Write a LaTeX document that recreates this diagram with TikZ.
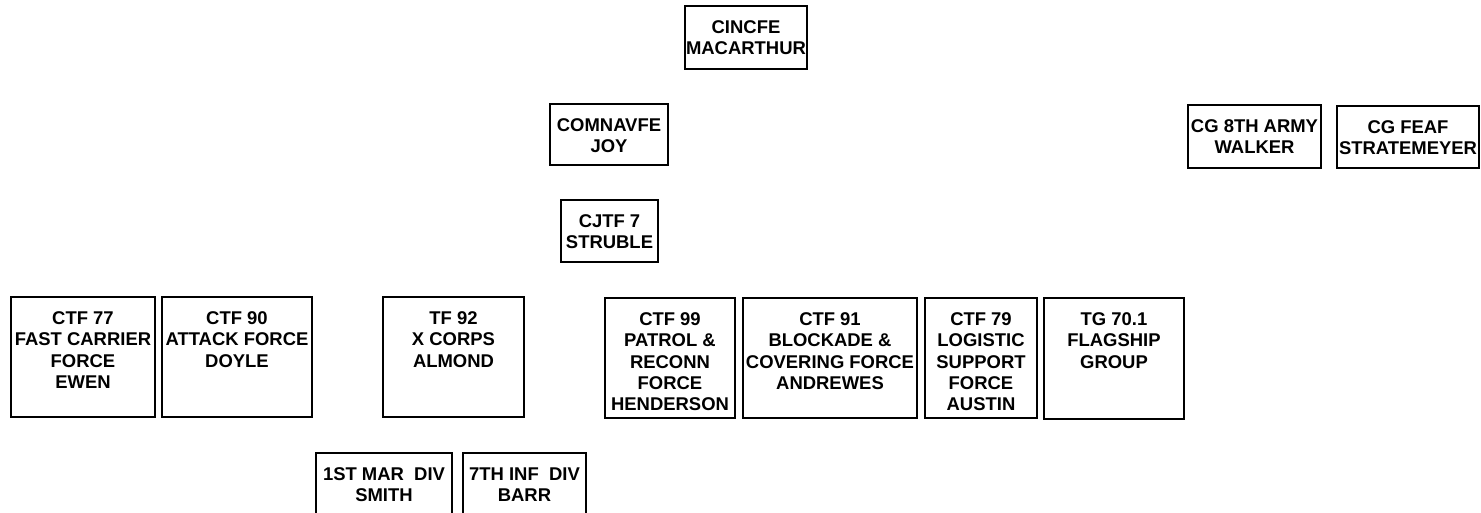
\documentclass[tikz,border=0pt]{standalone}
\usepackage{fontspec}
\setmainfont{Liberation Sans}
\usetikzlibrary{positioning, fit}

\begin{document}
\begin{tikzpicture}[
      x=0.02cm, y=-0.02cm,
      font=\fontsize{10.5}{12.2}\selectfont\bfseries,
      unit/.style={draw, line width=0.6pt, inner sep=0pt},
      lbl/.style={anchor=north, align=center, inner sep=0pt}
    ]
    \clip (0,0) rectangle (1481,513);
    \fill[white] (0,0) rectangle (1481,513);
    \foreach \n/\l/\t/\r/\b/\txt in {
      cincfe/685/6/807/69/{CINCFE\\MACARTHUR},
      comnavfe/550/104/668/165/{COMNAVFE\\JOY},
      cjtf/561/200/658/262/{CJTF 7\\STRUBLE},
      army/1188/105/1321/168/{CG 8TH ARMY\\WALKER},
      feaf/1337/106/1479/168/{CG FEAF\\STRATEMEYER},
      ctfa/11/297/155/417/{CTF 77\\FAST CARRIER\\FORCE\\EWEN},
      ctfb/162/297/312/417/{CTF 90\\ATTACK FORCE\\DOYLE},
      tfc/383/297/524/417/{TF 92\\X CORPS\\ALMOND},
      ctfd/605/298/735/418/{CTF 99\\PATROL \&\\RECONN\\FORCE\\HENDERSON},
      ctfe/743/298/917/418/{CTF 91\\BLOCKADE \&\\COVERING FORCE\\ANDREWES},
      ctff/925/298/1037/418/{CTF 79\\LOGISTIC\\SUPPORT\\FORCE\\AUSTIN},
      tgg/1044/298/1184/419/{TG 70.1\\FLAGSHIP\\GROUP},
      mar/316/453/452/520/{1ST MAR~~DIV\\SMITH},
      inf/463/453/586/520/{7TH INF~~DIV\\BARR}} {
      \node[unit, fit={(\l,\t) (\r,\b)}] (\n) {};
      \node[lbl] (\n-txt) at ({(\l+\r)/2}, {\t+14}) {\txt};
    }
  \end{tikzpicture}
\end{document}
